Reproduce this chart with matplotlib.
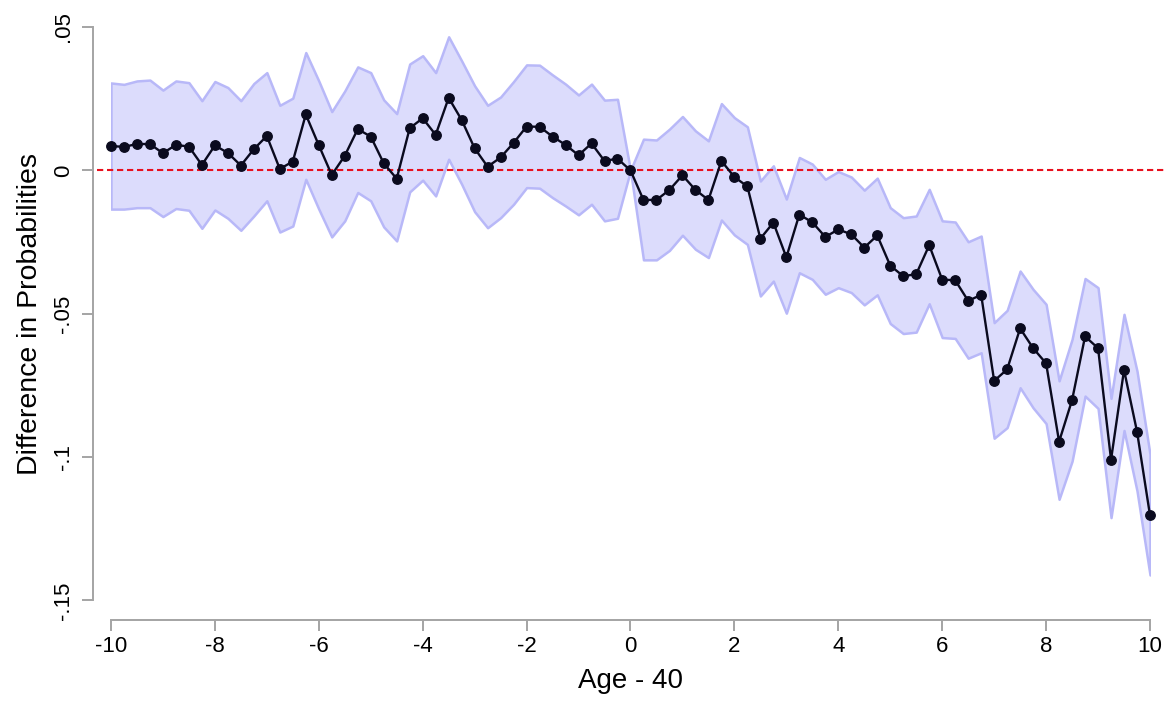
import numpy as np
import matplotlib.pyplot as plt
from matplotlib.transforms import blended_transform_factory

plt.rcParams['font.family'] = ['Liberation Sans', 'DejaVu Sans']

# age relative to 40, in quarter years
age = np.arange(-10, 10.01, 0.25)

diff = [0.0085, 0.0082, 0.0092, 0.0092, 0.0060, 0.0089, 0.0083, 0.0019, 0.0087, 0.0061,
        0.0017, 0.0074, 0.0120, 0.0005, 0.0031, 0.0195, 0.0088, -0.0016, 0.0051, 0.0144,
        0.0118, 0.0025, -0.0029, 0.0147, 0.0182, 0.0124, 0.0253, 0.0176, 0.0077, 0.0013,
        0.0045, 0.0096, 0.0153, 0.0152, 0.0118, 0.0089, 0.0053, 0.0094, 0.0033, 0.0041,
        0.0000,
        -0.0103, -0.0103, -0.0068, -0.0017, -0.0068, -0.0103, 0.0033, -0.0023, -0.0056, -0.0238,
        -0.0182, -0.0303, -0.0154, -0.0181, -0.0232, -0.0206, -0.0223, -0.0269, -0.0227, -0.0332,
        -0.0369, -0.0362, -0.0261, -0.0381, -0.0383, -0.0455, -0.0434, -0.0734, -0.0694, -0.0551,
        -0.0620, -0.0673, -0.0946, -0.0801, -0.0579, -0.0620, -0.1009, -0.0696, -0.0911, -0.1203]

upper = [0.0305, 0.0300, 0.0312, 0.0315, 0.0280, 0.0312, 0.0306, 0.0243, 0.0310, 0.0289,
         0.0243, 0.0303, 0.0341, 0.0227, 0.0252, 0.0411, 0.0312, 0.0205, 0.0277, 0.0361,
         0.0341, 0.0246, 0.0198, 0.0371, 0.0400, 0.0341, 0.0466, 0.0382, 0.0295, 0.0227,
         0.0256, 0.0310, 0.0368, 0.0367, 0.0333, 0.0301, 0.0263, 0.0301, 0.0245, 0.0248,
         0.0000,
         0.0109, 0.0106, 0.0144, 0.0188, 0.0138, 0.0103, 0.0233, 0.0184, 0.0152, -0.0037,
         0.0016, -0.0100, 0.0045, 0.0022, -0.0031, -0.0004, -0.0023, -0.0069, -0.0027, -0.0130,
         -0.0165, -0.0159, -0.0066, -0.0176, -0.0180, -0.0249, -0.0229, -0.0531, -0.0488, -0.0351,
         -0.0415, -0.0467, -0.0734, -0.0589, -0.0377, -0.0409, -0.0795, -0.0502, -0.0700, -0.0990]

lower = [-0.0135, -0.0135, -0.0130, -0.0130, -0.0161, -0.0133, -0.0139, -0.0202, -0.0138, -0.0167,
         -0.0209, -0.0159, -0.0106, -0.0215, -0.0194, -0.0031, -0.0135, -0.0232, -0.0176, -0.0077,
         -0.0106, -0.0197, -0.0246, -0.0075, -0.0034, -0.0089, 0.0039, -0.0048, -0.0144, -0.0200,
         -0.0165, -0.0118, -0.0060, -0.0062, -0.0095, -0.0124, -0.0155, -0.0118, -0.0176, -0.0167,
         0.0000,
         -0.0312, -0.0312, -0.0279, -0.0226, -0.0275, -0.0304, -0.0173, -0.0225, -0.0258, -0.0438,
         -0.0386, -0.0498, -0.0357, -0.0380, -0.0432, -0.0409, -0.0426, -0.0469, -0.0434, -0.0534,
         -0.0569, -0.0564, -0.0465, -0.0583, -0.0586, -0.0655, -0.0636, -0.0934, -0.0897, -0.0758,
         -0.0828, -0.0883, -0.1147, -0.1014, -0.0787, -0.0830, -0.1211, -0.0907, -0.1118, -0.1411]

yticks = [0.05, 0, -0.05, -0.1, -0.15]
ytick_labels = ['.05', '0', '-.05', '-.1', '-.15']
xticks = [-10, -8, -6, -4, -2, 0, 2, 4, 6, 8, 10]

fig = plt.figure(figsize=(11.73, 7.02), dpi=100)
ax = fig.add_axes([0.0946, 0.1446, 0.8858, 0.8169])

ax.fill_between(age, lower, upper, facecolor='#dcdcfc', edgecolor='#b8b8f8', linewidth=1.8, zorder=1)

trans = blended_transform_factory(ax.transAxes, ax.transData)
ax.plot([-0.0135, 1.0164], [0, 0], transform=trans, color='#e8101e', linestyle=(0, (3.0, 1.8)),
        linewidth=1.5, clip_on=False, zorder=2)

ax.plot(age, diff, color='#0a0a1e', linewidth=1.7, marker='o', markersize=6.8,
        markerfacecolor='#0a0a1e', markeredgecolor='#0a0a1e', clip_on=False, zorder=3)

ax.set_xlim(-10, 10)
ax.set_ylim(-0.15, 0.05)
ax.set_xticks(xticks)
ax.set_xticklabels([str(t) for t in xticks])
ax.set_yticks(yticks)
ax.set_yticklabels(ytick_labels)

for side in ['top', 'right']:
    ax.spines[side].set_visible(False)
ax.spines['left'].set_position(('outward', 13))
ax.spines['bottom'].set_position(('outward', 14))
for side in ['left', 'bottom']:
    ax.spines[side].set_color('#a4a4a4')
    ax.spines[side].set_linewidth(1.4)

ax.tick_params(axis='both', color='#a4a4a4', width=1.4, length=7.8, labelsize=16)
ax.tick_params(axis='x', pad=4)
ax.tick_params(axis='y', pad=6, labelrotation=90)
for lab in ax.get_yticklabels():
    lab.set_va('center')

ax.set_xlabel('Age - 40', fontsize=20, labelpad=8)
ax.set_ylabel('Difference in Probabilities', fontsize=20.5, labelpad=7)

fig.savefig('out.png', dpi=100)
